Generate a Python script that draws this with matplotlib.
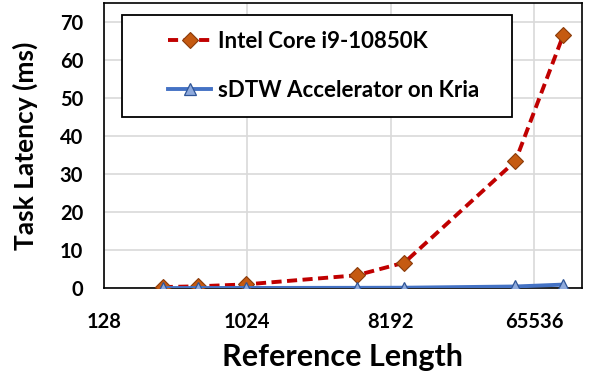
import matplotlib
matplotlib.use("Agg")
import matplotlib.pyplot as plt
from matplotlib.patches import Rectangle
from matplotlib.ticker import FixedLocator, FixedFormatter

# data
ref_len = [300, 500, 1000, 5000, 10000, 50000, 100000]
intel_ms = [0.25, 0.45, 0.95, 3.35, 6.7, 33.4, 66.5]
kria_ms = [0.0, 0.0, 0.02, 0.05, 0.08, 0.4, 0.9]
x_ticks = [128, 1024, 8192, 65536]
y_ticks = [0, 10, 20, 30, 40, 50, 60, 70]

plt.rcParams["font.family"] = ["Lato", "DejaVu Sans"]
plt.rcParams["font.weight"] = "bold"

fig = plt.figure(figsize=(5.98, 3.76), dpi=100)
ax = fig.add_axes([0.174, 0.234, 0.799, 0.758])

ax.plot(ref_len, intel_ms, color="#C00000", lw=2.8, ls=(0, (2.6, 1.4)),
        marker="D", ms=8.5, mfc="#C55A11", mec="#8A3B0A", mew=0.8,
        label="Intel Core i9-10850K", zorder=3)
ax.plot(ref_len, kria_ms, color="#4472C4", lw=2.8,
        marker="^", ms=9, mfc="#8FAADC", mec="#2F5597", mew=0.9,
        label="sDTW Accelerator on Kria", zorder=4)

ax.set_xscale("log", base=2)
ax.set_xlim(128, 131072)
ax.set_ylim(0, 75)
ax.xaxis.set_major_locator(FixedLocator(x_ticks))
ax.xaxis.set_major_formatter(FixedFormatter([str(v) for v in x_ticks]))
ax.xaxis.set_minor_locator(FixedLocator([]))
ax.set_yticks(y_ticks)
ax.tick_params(length=0, labelsize=14.5)
ax.tick_params(axis="x", pad=17)
ax.tick_params(axis="y", pad=15)
for lab in ax.get_xticklabels() + ax.get_yticklabels():
    lab.set_fontweight("bold")

ax.grid(True, color="#D9D9D9", lw=1.2)
ax.set_axisbelow(True)
for sp in ax.spines.values():
    sp.set_color("black")
    sp.set_linewidth(1.2)

ax.set_xlabel("Reference Length", fontsize=22, fontweight="bold", labelpad=8)
ax.set_ylabel("Task Latency (ms)", fontsize=19, fontweight="bold", labelpad=16)

# legend: text without frame, plus a wide box like the original
ax.add_patch(Rectangle((0.038, 0.60), 0.816, 0.358, transform=ax.transAxes,
                       facecolor="white", edgecolor="black", lw=1.3, zorder=5))
leg = ax.legend(loc="center left", bbox_to_anchor=(0.134, 0.78), frameon=False,
                borderpad=0, borderaxespad=0, labelspacing=1.25,
                handlelength=1.95, handletextpad=0.3,
                prop={"weight": "bold", "size": 16})
leg.set_zorder(6)

fig.savefig("out.png", dpi=100)
